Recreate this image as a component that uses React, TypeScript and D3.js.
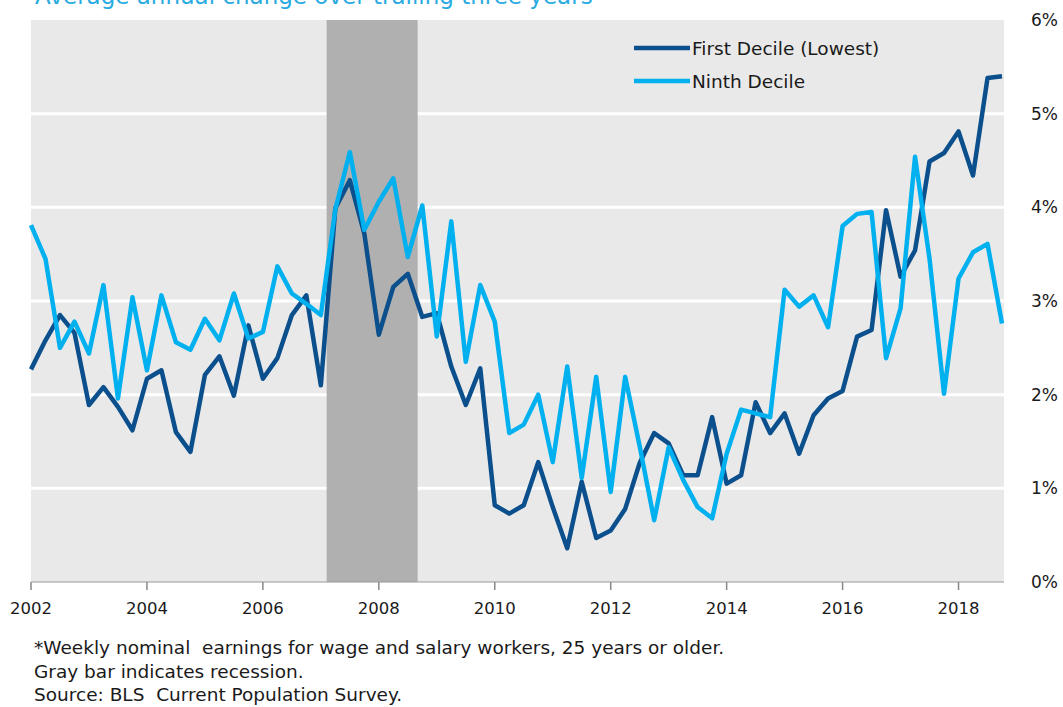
import React from 'react';
import * as d3 from 'd3';

// quarterly, 2002 Q1 .. 2018 Q4
const firstDecile = [
  2.27, 2.58, 2.85, 2.66, 1.89, 2.08, 1.87, 1.62, 2.17, 2.26, 1.6, 1.39,
  2.21, 2.41, 1.99, 2.74, 2.17, 2.39, 2.85, 3.06, 2.1, 3.99, 4.29, 3.72,
  2.64, 3.15, 3.29, 2.83, 2.87, 2.3, 1.89, 2.28, 0.82, 0.73, 0.82, 1.28,
  0.8, 0.36, 1.07, 0.47, 0.55, 0.78, 1.27, 1.59, 1.48, 1.14, 1.14, 1.76,
  1.05, 1.14, 1.92, 1.59, 1.8, 1.37, 1.78, 1.96, 2.04, 2.62, 2.69, 3.97,
  3.26, 3.54, 4.49, 4.58, 4.81, 4.34, 5.38, 5.4,
];
const ninthDecile = [
  3.81, 3.45, 2.5, 2.78, 2.44, 3.17, 1.96, 3.04, 2.26, 3.06, 2.56, 2.48,
  2.81, 2.58, 3.08, 2.6, 2.67, 3.37, 3.08, 2.97, 2.85, 3.98, 4.59, 3.76,
  4.06, 4.31, 3.47, 4.02, 2.62, 3.85, 2.35, 3.17, 2.78, 1.59, 1.68, 2.0,
  1.28, 2.3, 1.11, 2.19, 0.96, 2.19, 1.45, 0.66, 1.44, 1.09, 0.8, 0.68,
  1.37, 1.84, 1.8, 1.76, 3.12, 2.94, 3.06, 2.72, 3.8, 3.93, 3.95, 2.39,
  2.92, 4.54, 3.45, 2.01, 3.24, 3.52, 3.61, 2.76,
];
const seriesNames = ['First Decile (Lowest)', 'Ninth Decile'];
const seriesColors = ['#0b4f8c', '#00b0ef'];
const recession = [2007.1, 2008.67];
const yearTicks = [2002, 2004, 2006, 2008, 2010, 2012, 2014, 2016, 2018];
const pctTicks = [0, 1, 2, 3, 4, 5, 6];
const title = 'Average annual change over trailing three years';
const notes = [
  '*Weekly nominal  earnings for wage and salary workers, 25 years or older.',
  'Gray bar indicates recession.',
  'Source: BLS  Current Population Survey.',
];

const W = 1063;
const H = 707;
const font = 'Tahoma, "DejaVu Sans", sans-serif';

const App = () => {
  const left = 31;
  const right = 1004;
  const top = 20;
  const bottom = 582;

  const x = d3.scaleLinear().domain([2002, 2018.75]).range([left, 1002]);
  const y = d3.scaleLinear().domain([0, 6]).range([bottom, top]);

  const line = d3
    .line<number>()
    .x((_, i) => x(2002 + i / 4))
    .y((d) => y(d));

  const series = [firstDecile, ninthDecile];

  return (
    <svg
      width={W}
      height={H}
      style={{ position: 'absolute', left: 0, top: 0, background: '#fff' }}
      fontFamily={font}
    >
      <text x={35} y={4} fontSize={23} fill="#29abe2">
        {title}
      </text>

      <rect x={left} y={top} width={right - left} height={bottom - top} fill="#e9e9e9" />

      {pctTicks.slice(1, -1).map((t) => (
        <line key={t} x1={left} x2={right} y1={y(t)} y2={y(t)} stroke="#fff" strokeWidth={3} />
      ))}

      <rect
        x={x(recession[0])}
        y={top}
        width={x(recession[1]) - x(recession[0])}
        height={bottom - top}
        fill="#b0b0b0"
      />

      {series.map((s, k) => (
        <path
          key={k}
          d={line(s) || ''}
          fill="none"
          stroke={seriesColors[k]}
          strokeWidth={4.5}
          strokeLinejoin="round"
        />
      ))}

      <line x1={left} x2={right} y1={bottom} y2={bottom} stroke="#999" strokeWidth={1} />
      {yearTicks.map((t) => (
        <g key={t}>
          <line x1={x(t)} x2={x(t)} y1={bottom} y2={bottom + 8} stroke="#888" strokeWidth={1.5} />
          <text x={x(t)} y={614} fontSize={16.5} textAnchor="middle" fill="#1a1a1a">
            {t}
          </text>
        </g>
      ))}

      {pctTicks.map((t) => (
        <text key={t} x={1058} y={y(t) + 6} fontSize={17} textAnchor="end" fill="#1a1a1a">
          {t + '%'}
        </text>
      ))}

      {seriesNames.map((n, k) => (
        <g key={n} transform={`translate(634, ${48 + k * 33})`}>
          <line x1={0} x2={56} y1={0} y2={0} stroke={seriesColors[k]} strokeWidth={4.5} />
          <text x={58} y={6.5} fontSize={18.5} fill="#1a1a1a">
            {n}
          </text>
        </g>
      ))}

      {notes.map((n, k) => (
        <text key={k} x={34} y={654 + k * 23.5} fontSize={18.5} fill="#1a1a1a" xmlSpace="preserve">
          {n}
        </text>
      ))}
    </svg>
  );
};

export default App;
